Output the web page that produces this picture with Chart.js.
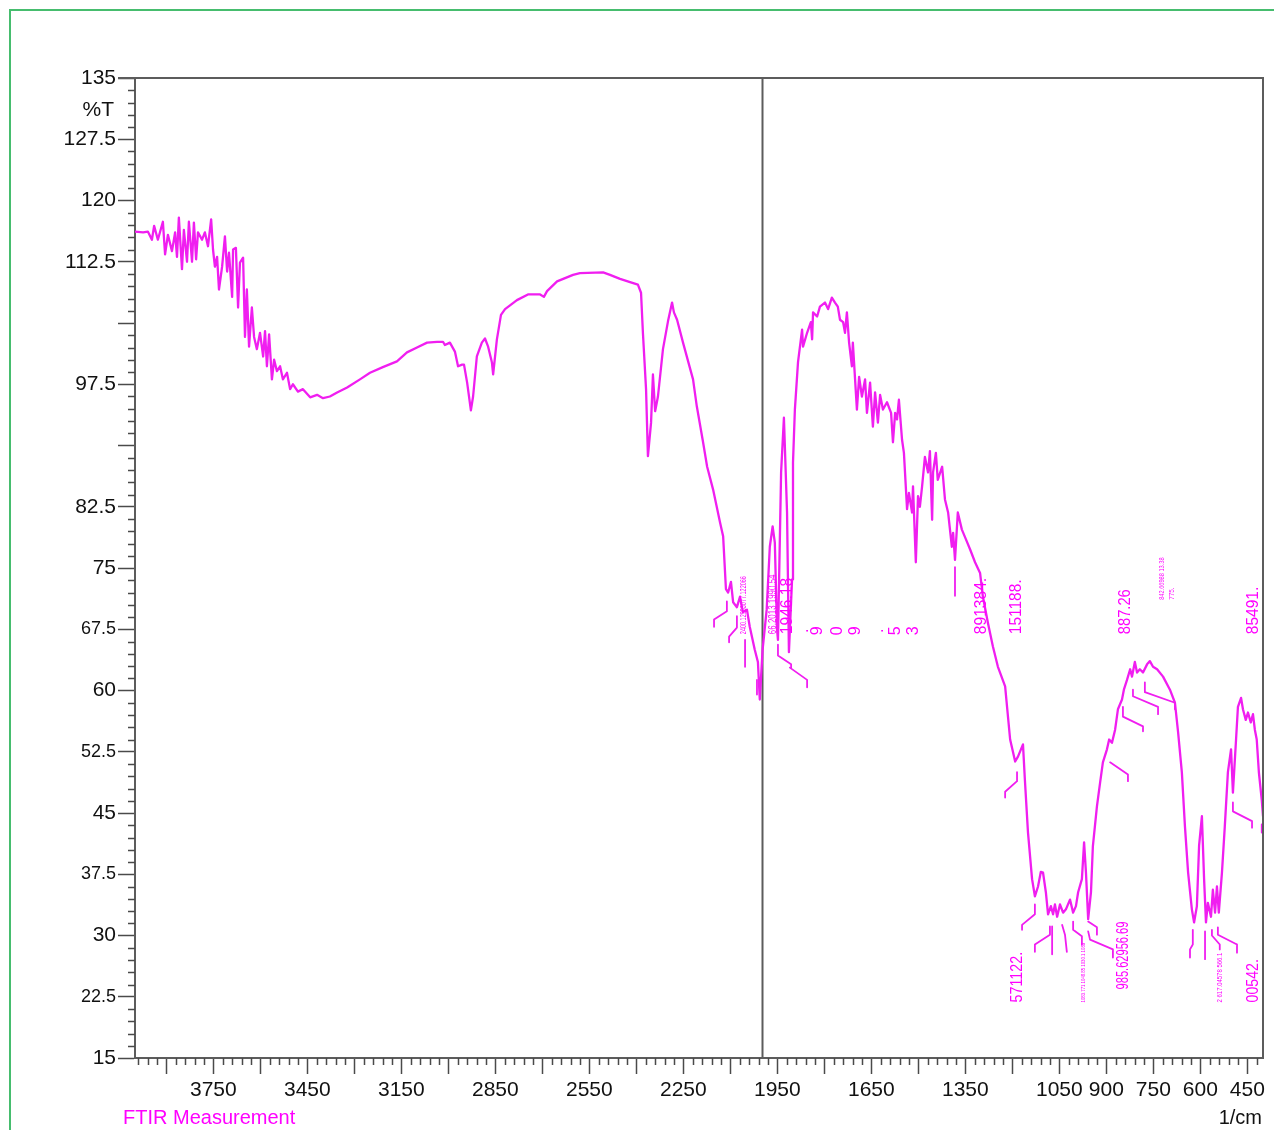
<!DOCTYPE html>
<html>
<head>
<meta charset="utf-8">
<script src="https://cdn.jsdelivr.net/npm/chart.js@4.4.1/dist/chart.umd.min.js"></script>
<style>
html,body{margin:0;padding:0;background:#fff;}
#wrap{position:relative;width:1274px;height:1130px;overflow:hidden;}
#frame{position:absolute;left:9px;top:9px;width:1400px;height:1300px;border-left:2px solid #46bd6e;border-top:2px solid #46bd6e;}
canvas{position:absolute;left:0;top:0;}
.foot{position:absolute;top:1106px;font-family:'Liberation Sans',Arial,sans-serif;font-size:20px;line-height:22px;white-space:nowrap;}
</style>
</head>
<body>
<div id="wrap">
<div id="frame"></div>
<canvas id="c" width="1274" height="1130"></canvas>
<div class="foot" style="left:123px;color:#ff00ff;">FTIR Measurement</div>
<div class="foot" style="right:12px;color:#111;">1/cm</div>
</div>
<script>
// ---- spectrum (1/cm , %T) ----
const wavenumbers = [4000,3974,3959,3946,3939,3927,3911,3904,3895,3882,3872,3866,3860,3850,3844,3834,3828,3818,3812,3805,3799,3786,3777,3767,3757,3751,3745,3738,3732,3722,3713,3706,3700,3690,3687,3678,3671,3665,3655,3649,3643,3636,3627,3620,3611,3601,3591,3585,3579,3572,3563,3556,3547,3537,3528,3515,3505,3496,3480,3464,3441,3419,3400,3378,3355,3323,3282,3250,3209,3164,3132,3100,3068,3036,3017,3011,2995,2979,2969,2956,2950,2940,2928,2921,2909,2893,2883,2873,2861,2857,2845,2832,2819,2781,2746,2707,2695,2685,2653,2602,2580,2506,2484,2452,2420,2395,2385,2379,2369,2363,2353,2347,2340,2331,2315,2299,2286,2280,2270,2251,2219,2207,2187,2174,2155,2133,2123,2114,2107,2098,2091,2079,2069,2060,2047,2038,2022,2012,2006,1997,1984,1974,1965,1958,1951,1948,1938,1929,1919,1913,1903,1900,1894,1884,1871,1868,1855,1843,1839,1836,1823,1814,1798,1788,1776,1766,1757,1750,1740,1734,1728,1721,1712,1709,1696,1689,1680,1670,1664,1654,1645,1638,1629,1622,1613,1600,1587,1581,1574,1568,1562,1552,1546,1536,1530,1520,1517,1508,1501,1495,1488,1479,1469,1463,1456,1453,1444,1438,1424,1415,1405,1393,1389,1383,1374,1361,1348,1335,1319,1303,1294,1278,1262,1246,1223,1207,1191,1182,1166,1160,1150,1137,1128,1118,1109,1102,1093,1086,1077,1070,1064,1057,1048,1038,1029,1016,1006,997,990,978,971,965,958,949,943,930,920,911,898,891,882,872,863,850,844,834,824,818,809,802,793,783,770,761,751,738,719,697,681,671,659,649,639,627,620,611,604,595,588,582,576,566,560,553,547,541,531,522,512,502,496,486,480,470,464,455,448,439,432,426,420,413,404,400];
const transmittance = [116.2,116.1,116.2,115.2,116.9,115.2,117.4,113.4,115.8,113.8,116.1,113.1,117.9,111.6,116.4,112.5,117.4,112.5,117.3,112.8,116.1,115.2,116.1,114.4,117.7,114.0,111.9,113.1,109.1,111.9,115.6,111.3,113.6,108.2,114.0,114.2,106.9,112.4,113.0,103.3,109.1,102.1,106.9,103.3,101.8,103.8,100.9,104.0,99.7,103.6,98.1,100.5,99.1,99.7,98.1,98.9,96.9,97.5,96.6,96.9,95.9,96.2,95.8,96.0,96.5,97.1,98.1,98.9,99.6,100.3,101.4,102.0,102.6,102.7,102.7,102.3,102.6,101.5,99.7,99.9,99.9,97.7,94.3,96.0,100.9,102.6,103.1,102.1,100.2,98.7,103.0,106.0,106.7,107.8,108.5,108.5,108.2,108.9,110.1,110.9,111.1,111.2,110.9,110.4,110.0,109.7,108.7,103.8,96.9,88.7,92.8,98.7,94.2,96.0,101.8,105.2,107.5,106.3,105.4,102.6,98.1,94.8,90.4,87.4,84.6,80.6,78.9,72.4,72.0,73.3,70.8,70.2,71.5,69.6,69.9,67.8,65.0,63.5,58.9,65.0,69.9,77.6,80.1,78.1,67.5,66.2,86.7,93.4,81.8,64.7,73.6,87.9,94.4,100.2,104.2,102.1,103.8,105.1,103.0,106.3,105.8,107.0,107.5,106.7,108.1,107.5,107.0,105.4,105.1,103.8,106.3,102.6,99.7,102.6,94.4,98.4,96.0,98.1,94.0,97.7,92.3,96.5,92.8,96.2,94.4,95.3,94.0,90.4,94.0,93.2,95.6,90.7,89.1,82.2,84.2,81.8,85.0,75.7,83.8,82.5,85.0,88.6,86.7,89.3,80.9,86.7,89.1,85.8,87.4,83.4,81.8,77.6,79.3,76.0,81.8,79.7,78.5,77.3,75.7,74.4,71.5,68.3,65.4,62.9,60.5,54.0,51.3,51.9,53.4,49.1,42.6,36.9,34.8,36.0,37.8,37.7,35.3,32.6,33.6,32.6,33.8,32.3,33.8,32.8,33.2,34.4,32.8,33.6,35.3,36.9,41.4,37.7,32.0,35.3,40.9,45.8,48.7,51.2,52.8,54.0,53.6,55.2,57.7,58.9,60.1,61.3,62.6,61.7,63.5,62.2,62.6,62.2,63.2,63.6,62.9,62.6,61.7,60.1,58.5,54.9,50.0,43.3,37.7,33.2,31.6,33.6,41.0,44.6,36.9,31.6,34.0,32.3,35.6,32.8,36.0,32.8,37.7,43.3,50.0,52.8,47.5,54.0,58.0,59.1,57.7,56.4,57.3,56.1,57.1,55.2,54.0,49.9,46.6,44.6];

// ---- axes ----
const xMajorTicks = [3900,3750,3600,3450,3300,3150,3000,2850,2700,2550,2400,2250,2100,1950,1800,1650,1500,1350,1200,1050,900,750,600,450];
const xTickLabels = [3750,3450,3150,2850,2550,2250,1950,1650,1350,1050,900,750,600,450];
const yMajorTicks = [135,127.5,120,112.5,105,97.5,90,82.5,75,67.5,60,52.5,45,37.5,30,22.5,15];
const yTickLabels = [135,127.5,120,112.5,97.5,82.5,75,67.5,60,52.5,45,37.5,30,22.5,15];
const narrowYLabels = [67.5,52.5,37.5,22.5];
const xMinorStep = 30;
const yMinorStep = 1.5;
const rangeBoundary = 2000;
const yUnitText = '%T';
const yUnitAt = 131.1;

// ---- peak labels ----
const peakText = ['2400.12953077.122066','66.2013 1990.54','1946.18','891384.','151188.','887.26','842.66988 13.38','775.','85491.','571122.','1083.771 1048.85 1030.1 1089','985.62956.69','2 617.04578 566.1','00542.'];
const peakWn   = [2058,1965,1918,1298,1187,838,721,689,429,1184,973,845,536,430];
const peakLow  = [66.9,66.9,66.9,66.9,66.9,66.9,71.1,71.1,66.9,21.8,21.8,23.4,21.8,21.8];
const peakHigh = [74.0,74.2,73.8,73.8,73.6,72.4,76.3,72.6,72.7,28.0,29.1,31.7,27.9,27.1];
const peakFontPx = [9,11,16,16,16,16,7,7,16,16,5,17,7,16];
// scattered single rotated characters
const charText = ['.','9','0','9','.','5','3'];
const charWn   = [1866,1821,1757,1700,1626,1572,1514];
const charT    = 67.3;

// ---- peak leader lines (1/cm , %T) ----
const leaderWn = [[2111,2111,2152,2152],[2079,2079,2104,2104],[2053,2053],[2015,2015],[1948,1948,1906,1906],[1910,1855,1855],[1383,1383],[1185,1185,1223,1223],[1128,1128,1169,1169],[1080,1080,1128,1128],[1073,1073],[1041,1032,1026],[1006,1006,978,978],[958,930,930],[958,952,879,879],[888,831,831],[847,847,783,783],[815,815,735,735],[777,777,681,681],[624,624,633,633],[585,585],[563,563,538,538],[544,544,483,483],[496,496,435,435],[404,404]];
const leaderT  = [[70.9,69.7,68.7,67.8],[69.1,67.7,66.6,65.9],[66.2,62.9],[61.3,59.5],[65.6,64.3,63.2,62.8],[62.8,61.3,60.4],[75.1,71.6],[50.0,48.9,47.6,46.9],[33.8,32.6,31.3,30.7],[31.1,30.1,28.9,28.0],[31.1,27.7],[31.3,30.1,28.0],[31.7,30.7,29.9,28.9],[31.7,31.0,30.1],[30.5,29.5,28.3,27.3],[51.2,49.7,48.9],[58.0,56.8,55.6,55.0],[60.1,59.3,58.0,57.1],[61.0,59.8,58.5,57.7],[30.7,28.9,28.3,27.3],[30.5,27.1],[30.7,30.0,28.9,28.3],[31.0,30.1,28.9,27.9],[46.3,45.2,44.0,43.2],[43.6,42.6]];

const MAG = '#f01ef0';
const TXT = '#ff00ff';
const AX = '#5c5c5c';
const FONT = "'Liberation Sans', Arial, sans-serif";

const datasets = [{
  data: wavenumbers.map((w,i)=>({x:w,y:transmittance[i]})),
  borderColor: MAG, borderWidth: 2.3, pointRadius: 0, tension: 0, fill: false
}];
leaderWn.forEach((ws,k)=>{
  datasets.push({
    data: ws.map((w,i)=>({x:w,y:leaderT[k][i]})),
    borderColor: MAG, borderWidth: 1.8, pointRadius: 0, tension: 0, fill: false
  });
});

const decor = {
  id: 'decor',
  beforeDatasetsDraw(chart){
    const {ctx, chartArea:a, scales:{x, y}} = chart;
    ctx.save();
    ctx.strokeStyle = AX; ctx.lineWidth = 2;
    const bx = Math.round(x.getPixelForValue(rangeBoundary)) + 0.5;
    ctx.beginPath(); ctx.moveTo(bx, a.top); ctx.lineTo(bx, a.bottom); ctx.stroke();
    ctx.restore();
  },
  afterDatasetsDraw(chart){
    const {ctx, chartArea:a, scales:{x, y}} = chart;
    ctx.save();
    // frame top/right
    ctx.strokeStyle = AX; ctx.lineWidth = 2;
    ctx.beginPath();
    ctx.moveTo(a.left - 17, a.top); ctx.lineTo(a.right, a.top); ctx.lineTo(a.right, a.bottom);
    ctx.stroke();
    // minor ticks
    ctx.lineWidth = 1.5; ctx.strokeStyle = '#4a4a4a';
    ctx.beginPath();
    for (let v = Math.ceil(x.min / xMinorStep) * xMinorStep; v < x.max; v += xMinorStep) {
      if (v % 150 === 0) continue;
      const px = Math.round(x.getPixelForValue(v)) + 0.5;
      ctx.moveTo(px, a.bottom); ctx.lineTo(px, a.bottom + 7);
    }
    for (let v = y.min + yMinorStep; v < y.max - 0.01; v += yMinorStep) {
      const r = v / 7.5;
      if (Math.abs(r - Math.round(r)) < 1e-6) continue;
      const py = Math.round(y.getPixelForValue(v)) + 0.5;
      ctx.moveTo(a.left, py); ctx.lineTo(a.left - 7, py);
    }
    ctx.stroke();
    // unit label
    ctx.fillStyle = '#111';
    ctx.font = '21px ' + FONT;
    ctx.textAlign = 'right'; ctx.textBaseline = 'middle';
    ctx.fillText(yUnitText, a.left - 21, y.getPixelForValue(yUnitAt));
    // peak labels (rotated)
    ctx.fillStyle = TXT;
    peakText.forEach((t,i)=>{
      const px = x.getPixelForValue(peakWn[i]);
      const yb = y.getPixelForValue(peakLow[i]);
      const yt = y.getPixelForValue(peakHigh[i]);
      ctx.save();
      ctx.font = peakFontPx[i] + 'px ' + FONT;
      const w = ctx.measureText(t).width;
      ctx.translate(px, yb);
      ctx.rotate(-Math.PI/2);
      ctx.scale((yb - yt) / w, 1);
      ctx.textAlign = 'left'; ctx.textBaseline = 'middle';
      ctx.fillText(t, 0, 0);
      ctx.restore();
    });
    charText.forEach((t,i)=>{
      ctx.save();
      ctx.font = '16px ' + FONT;
      ctx.translate(x.getPixelForValue(charWn[i]), y.getPixelForValue(charT));
      ctx.rotate(-Math.PI/2);
      ctx.textAlign = 'center'; ctx.textBaseline = 'middle';
      ctx.fillText(t, 0, 0);
      ctx.restore();
    });
    ctx.restore();
  }
};

new Chart(document.getElementById('c'), {
  type: 'line',
  data: { datasets },
  options: {
    responsive: false, animation: false, devicePixelRatio: 1,
    layout: { padding: { top: 78, right: 11, left: 0, bottom: 0 } },
    plugins: { legend: { display: false }, tooltip: { enabled: false } },
    elements: { line: { borderCapStyle: 'round', borderJoinStyle: 'round' } },
    scales: {
      x: {
        type: 'linear', reverse: true, min: 400, max: 4000,
        afterFit(s){ s.height = 72; },
        afterBuildTicks(s){ s.ticks = xMajorTicks.map(v=>({value:v})); },
        ticks: {
          autoSkip: false, maxRotation: 0, minRotation: 0, padding: 4, color: '#111',
          font: { family: FONT, size: 21 },
          callback: v => xTickLabels.includes(v) ? String(v) : ''
        },
        grid: { drawOnChartArea: false, tickLength: 16, tickColor: '#4a4a4a', tickWidth: 1.5 },
        border: { color: AX, width: 2 }
      },
      y: {
        type: 'linear', min: 15, max: 135,
        afterFit(s){ s.width = 135; },
        afterBuildTicks(s){ s.ticks = yMajorTicks.map(v=>({value:v})); },
        ticks: {
          autoSkip: false, padding: 2, color: '#111',
          font: c => narrowYLabels.includes(c.tick && c.tick.value)
            ? { family: "'Liberation Sans Narrow', " + FONT, size: 18 }
            : { family: FONT, size: 21 },
          callback: v => yTickLabels.includes(v) ? String(v) : ''
        },
        grid: { drawOnChartArea: false, tickLength: 17, tickColor: '#4a4a4a', tickWidth: 1.5 },
        border: { color: AX, width: 2 }
      }
    }
  },
  plugins: [decor]
});
</script>
</body>
</html>
